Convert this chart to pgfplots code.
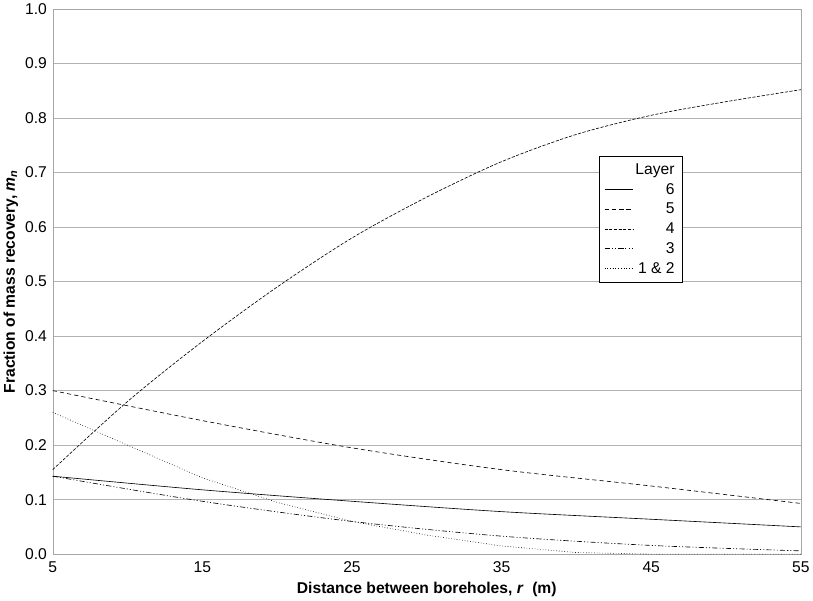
\documentclass[border=0pt]{standalone}
\usepackage{pgfplots}
\pgfplotsset{compat=1.18}
\usepackage{fontspec}
\setmainfont{Liberation Sans}
\begin{document}
\begin{tikzpicture}
\begin{axis}[
scale only axis, width=715bp, height=521bp,
xmin=5, xmax=55, ymin=0, ymax=1,
xtick={5,15,25,35,45,55},
ytick={0,0.1,...,1.0},
yticklabel style={xshift=-2pt,/pgf/number format/.cd,fixed,fixed zerofill,precision=1},
/pgf/number format/assume math mode=true,
ymajorgrids, grid style={gray!60},
tick style={draw=none},
axis line style={gray!70},
tick label style={font=\fontsize{15}{17}\selectfont},
xticklabel style={yshift=-4pt},
xlabel={\textbf{Distance between boreholes, \textit{r}\ \ (m)}},
ylabel={\textbf{Fraction of mass recovery, \textit{m}\textsubscript{\textit{n}}}},
label style={font=\fontsize{15}{17}\selectfont},
xlabel style={yshift=-2pt},
legend style={at={(0.73,0.73)},anchor=north west,font=\fontsize{15}{18}\selectfont,draw=black,cells={anchor=east},row sep=3pt,inner sep=5pt},
legend image post style={xscale=1.6},
legend cell align=right,
]
\addlegendimage{empty legend}\addlegendentry{Layer\hspace{1.6em}}
\addplot[black,solid,semithick,smooth] coordinates {(5,0.143)(15,0.118)(25,0.097)(35,0.078)(45,0.064)(55,0.05)};
\addlegendentry{6\hspace{2.6em}}
\addplot[black,semithick,smooth,dash pattern=on 4pt off 3pt] coordinates {(5,0.30)(15,0.245)(25,0.195)(35,0.155)(45,0.125)(55,0.093)};
\addlegendentry{5\hspace{2.6em}}
\addplot[black,semithick,smooth,dash pattern=on 3pt off 1.5pt] coordinates {(5,0.155)(10,0.28)(15,0.39)(20,0.49)(25,0.58)(30,0.655)(35,0.72)(40,0.77)(45,0.805)(50,0.83)(55,0.852)};
\addlegendentry{4\hspace{2.6em}}
\addplot[black,semithick,smooth,dash pattern=on 5pt off 2pt on 1pt off 2pt on 1pt off 2pt] coordinates {(5,0.143)(15,0.097)(25,0.06)(35,0.033)(45,0.016)(55,0.006)};
\addlegendentry{3\hspace{2.6em}}
\addplot[black,semithick,dotted] coordinates {(5,0.26)(10,0.2)(15,0.14)(20,0.095)(25,0.06)(30,0.035)(35,0.015)(40,0.003)(45,0)(55,0)};
\addlegendentry{1 \& 2\hspace{1.6em}}
\end{axis}
\end{tikzpicture}
\end{document}
